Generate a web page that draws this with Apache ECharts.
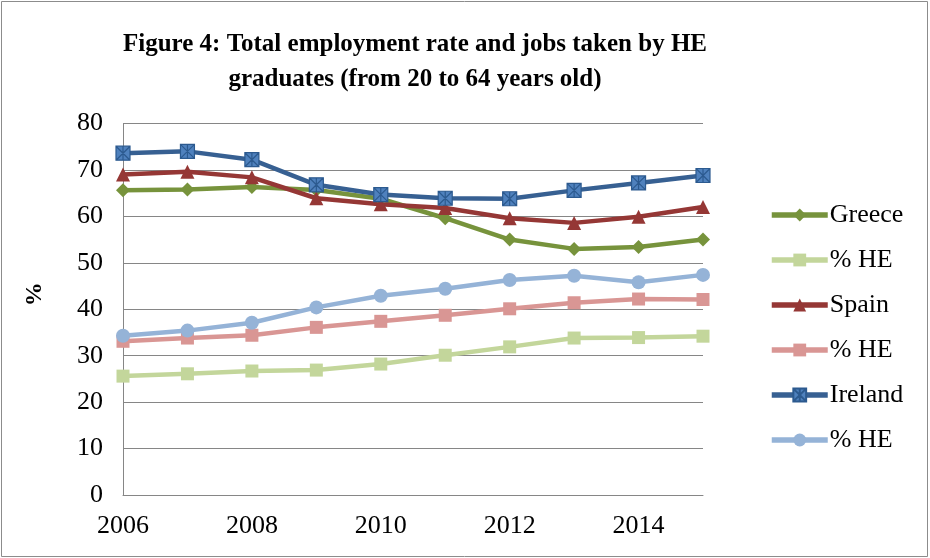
<!DOCTYPE html>
<html>
<head>
<meta charset="utf-8">
<script src="https://cdn.jsdelivr.net/npm/echarts@6/dist/echarts.min.js"></script>
<style>
  html, body { margin: 0; padding: 0; background: #fff; }
  #chart { width: 930px; height: 558px; }
</style>
</head>
<body>
<div id="chart"></div>
<script>
// Years on the category axis
const years = ['2006','2007','2008','2009','2010','2011','2012','2013','2014','2015'];

// Total employment rate (20-64) and share of jobs taken by HE graduates, in %
const greece     = [65.6, 65.8, 66.3, 65.7, 63.8, 59.6, 55.0, 53.0, 53.4, 55.0];
const greeceHE   = [25.6, 26.1, 26.7, 26.9, 28.2, 30.1, 31.9, 33.8, 33.9, 34.2];
const spain      = [69.0, 69.6, 68.4, 63.9, 62.6, 61.8, 59.6, 58.6, 59.9, 62.0];
const spainHE    = [33.1, 33.8, 34.4, 36.1, 37.4, 38.7, 40.1, 41.4, 42.2, 42.1];
const ireland    = [73.6, 74.0, 72.2, 66.8, 64.7, 63.9, 63.8, 65.6, 67.2, 68.8];
const irelandHE  = [34.3, 35.4, 37.1, 40.4, 42.9, 44.4, 46.3, 47.2, 45.8, 47.4];

const serif = "'Liberation Serif', 'DejaVu Serif', serif";

// square with an asterisk (X plus vertical stroke) drawn by the border
const starSquare = 'path://M0,0L10,0L10,10L0,10Z M0,0L10,10 M10,0L0,10 M5,0L5,10';

function line(name, data, color, symbol, size, marker) {
  return {
    name, type: 'line', data,
    symbol, symbolSize: size,
    lineStyle: { color, width: 4.5 },
    itemStyle: marker
      ? { color: marker.fill, borderColor: marker.stroke, borderWidth: 1.2 }
      : { color, borderWidth: 0 },
    emphasis: { disabled: true },
    animation: false
  };
}

const chart = echarts.init(document.getElementById('chart'));
chart.setOption({
  backgroundColor: '#ffffff',
  title: {
    text: 'Figure 4: Total employment rate and jobs taken by HE\ngraduates (from 20 to 64 years old)',
    left: 410, top: 22, textAlign: 'center',
    textStyle: { fontFamily: serif, fontWeight: 'bold', fontSize: 25, lineHeight: 35, color: '#000' }
  },
  graphic: [{
    type: 'rect', shape: { x: 1.5, y: 1.5, width: 926, height: 555 },
    style: { fill: 'none', stroke: '#8c8c8c', lineWidth: 1 }, silent: true
  }],
  grid: { left: 123, right: 227, top: 123.5, bottom: 63 },
  legend: {
    orient: 'vertical', left: 769, top: 202, padding: 0,
    itemWidth: 56, itemHeight: 16, itemGap: 19,
    lineStyle: { width: 5.5 },
    textStyle: { fontFamily: serif, fontSize: 26, lineHeight: 26, color: '#000', padding: [0, 0, 0, -3] },
    formatter: n => n.startsWith('% HE') ? '% HE' : n
  },
  xAxis: {
    type: 'category', data: years, boundaryGap: false,
    axisLine: { lineStyle: { color: '#868686', width: 1 } },
    axisTick: { show: false },
    axisLabel: { interval: 1, fontFamily: serif, fontSize: 26, color: '#000', margin: 18 },
    splitLine: { show: false }
  },
  yAxis: {
    type: 'value', min: 0, max: 80, interval: 10,
    name: '%', nameLocation: 'middle', nameGap: 76, nameRotate: 90,
    nameTextStyle: { fontFamily: serif, fontSize: 24, fontWeight: 'bold', color: '#000', padding: [0, 0, 0, 30] },
    axisLine: { show: true, lineStyle: { color: '#868686', width: 1 } },
    axisTick: { show: false },
    axisLabel: { fontFamily: serif, fontSize: 26, color: '#000', margin: 20 },
    splitLine: { lineStyle: { color: '#868686', width: 1 } }
  },
  series: [
    line('Greece', greece, '#77933C', 'diamond', 14),
    line('% HE (Greece)', greeceHE, '#C3D69B', 'rect', 13),
    line('Spain', spain, '#953735', 'triangle', 14),
    line('% HE (Spain)', spainHE, '#D99694', 'rect', 13),
    line('Ireland', ireland, '#376092', starSquare, 14, { fill: '#4F81BD', stroke: '#2C5A8F' }),
    line('% HE (Ireland)', irelandHE, '#95B3D7', 'circle', 14)
  ]
});
</script>
</body>
</html>
